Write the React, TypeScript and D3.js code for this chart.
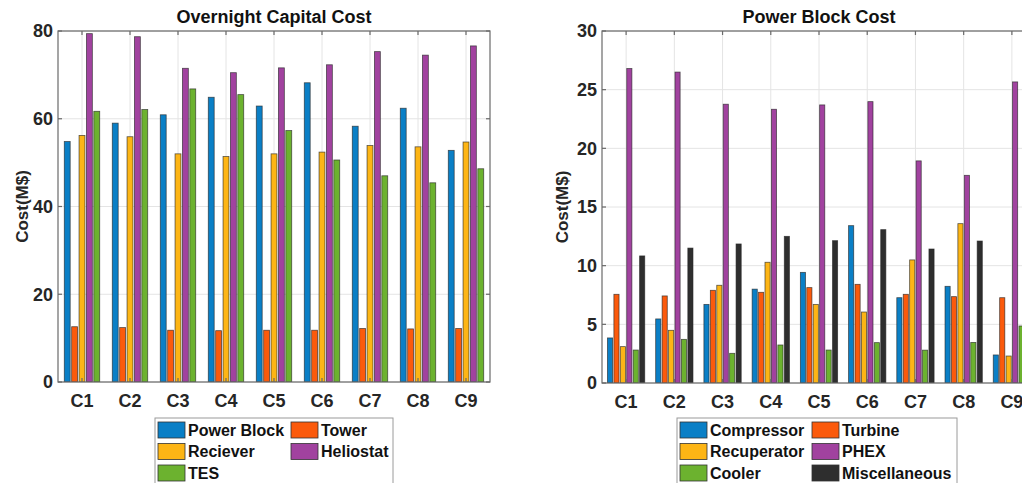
import React, { useEffect, useRef } from "react";
import * as d3 from "d3";

// Cases C1..C9
const categories = ["C1", "C2", "C3", "C4", "C5", "C6", "C7", "C8", "C9"];

// Overnight capital cost breakdown (M$)
const capitalSeries = ["Power Block", "Tower", "Reciever", "Heliostat", "TES"];
const powerBlock = [54.8, 59.0, 60.9, 64.9, 62.9, 68.2, 58.3, 62.4, 52.8];
const tower = [12.6, 12.4, 11.8, 11.7, 11.8, 11.8, 12.2, 12.1, 12.2];
const reciever = [56.2, 55.9, 52.0, 51.4, 52.0, 52.4, 53.9, 53.6, 54.7];
const heliostat = [79.4, 78.7, 71.5, 70.5, 71.6, 72.3, 75.3, 74.5, 76.6];
const tes = [61.7, 62.1, 66.8, 65.5, 57.3, 50.6, 47.0, 45.4, 48.6];
const capitalTicks = [0, 20, 40, 60, 80];

// Power block cost breakdown (M$)
const blockSeries = ["Compressor", "Turbine", "Recuperator", "PHEX", "Cooler", "Miscellaneous"];
const compressor = [3.84, 5.46, 6.7, 8.0, 9.43, 13.41, 7.27, 8.24, 2.39];
const turbine = [7.56, 7.42, 7.9, 7.73, 8.13, 8.41, 7.56, 7.36, 7.27];
const recuperator = [3.1, 4.49, 8.33, 10.29, 6.7, 6.05, 10.49, 13.58, 2.3];
const phex = [26.8, 26.5, 23.76, 23.33, 23.7, 23.98, 18.93, 17.7, 25.66];
const cooler = [2.81, 3.72, 2.53, 3.24, 2.81, 3.44, 2.8, 3.46, 4.86];
const miscellaneous = [10.83, 11.5, 11.85, 12.5, 12.13, 13.07, 11.42, 12.1, 12.0];
const blockTicks = [0, 5, 10, 15, 20, 25, 30];

const colors6 = ["#0a7fc6", "#fb5a0c", "#fdb515", "#a1429f", "#6cb22f", "#2e2e2e"];

const FONT = "'Liberation Sans', Arial, sans-serif";

type PanelSpec = {
  title: string;
  series: string[];
  values: number[][];
  colors: string[];
  ticks: number[];
  max: number;
  x0: number;
  x1: number;
  y0: number;
  y1: number;
  yLabelX: number;
  legend: { x: number; y: number; w: number; col2: number };
};

function drawPanel(g: d3.Selection<SVGGElement, unknown, null, undefined>, p: PanelSpec) {
  const x = d3.scaleBand<string>().domain(categories).range([p.x0, p.x1]).padding(0);
  const y = d3.scaleLinear().domain([0, p.max]).range([p.y1, p.y0]);
  const n = p.series.length;
  const gw = Math.min(0.8, n / (n + 1.5)) * x.bandwidth();
  const inner = d3
    .scaleBand<number>()
    .domain(d3.range(n))
    .range([-gw / 2, gw / 2])
    .paddingInner(0.2)
    .paddingOuter(0.1);

  const clipId = `clip-${p.x0}`;
  g.append("clipPath")
    .attr("id", clipId)
    .append("rect")
    .attr("x", p.x0)
    .attr("y", p.y0)
    .attr("width", p.x1 - p.x0)
    .attr("height", p.y1 - p.y0);

  // grid
  g.append("rect")
    .attr("x", p.x0)
    .attr("y", p.y0)
    .attr("width", p.x1 - p.x0)
    .attr("height", p.y1 - p.y0)
    .attr("fill", "#fff");
  const grid = g.append("g").attr("stroke", "#e4e4e4").attr("stroke-width", 1);
  p.ticks.forEach((t) => {
    grid.append("line").attr("x1", p.x0).attr("x2", p.x1).attr("y1", y(t)).attr("y2", y(t));
  });
  categories.forEach((c) => {
    const cx = x(c)! + x.bandwidth() / 2;
    grid.append("line").attr("x1", cx).attr("x2", cx).attr("y1", p.y0).attr("y2", p.y1);
  });

  // bars
  const bars = g.append("g").attr("clip-path", `url(#${clipId})`);
  p.values.forEach((vals, si) => {
    bars
      .selectAll(null)
      .data(vals)
      .enter()
      .append("rect")
      .attr("x", (_d, i) => x(categories[i])! + x.bandwidth() / 2 + inner(si)!)
      .attr("y", (d) => y(d))
      .attr("width", inner.bandwidth())
      .attr("height", (d) => y(0) - y(d))
      .attr("fill", p.colors[si])
      .attr("stroke", "#262626")
      .attr("stroke-opacity", 0.75)
      .attr("stroke-width", 0.8);
  });

  // axes box
  const ax = g.append("g").attr("stroke", "#6a6a6a").attr("stroke-width", 1.2).attr("fill", "none");
  ax.append("rect")
    .attr("x", p.x0)
    .attr("y", p.y0)
    .attr("width", p.x1 - p.x0)
    .attr("height", p.y1 - p.y0);
  p.ticks.forEach((t) => {
    ax.append("line").attr("x1", p.x0).attr("x2", p.x0 + 4).attr("y1", y(t)).attr("y2", y(t));
    ax.append("line").attr("x1", p.x1).attr("x2", p.x1 - 4).attr("y1", y(t)).attr("y2", y(t));
  });
  categories.forEach((c) => {
    const cx = x(c)! + x.bandwidth() / 2;
    ax.append("line").attr("x1", cx).attr("x2", cx).attr("y1", p.y1).attr("y2", p.y1 - 4);
    ax.append("line").attr("x1", cx).attr("x2", cx).attr("y1", p.y0).attr("y2", p.y0 + 4);
  });

  // tick labels
  const txt = g.append("g").attr("font-family", FONT).attr("font-weight", "bold").attr("fill", "#262626");
  p.ticks.forEach((t) => {
    txt.append("text")
      .attr("x", p.x0 - 5)
      .attr("y", y(t))
      .attr("dy", "0.36em")
      .attr("text-anchor", "end")
      .attr("font-size", 18)
      .text(t);
  });
  categories.forEach((c) => {
    txt.append("text")
      .attr("x", x(c)! + x.bandwidth() / 2)
      .attr("y", p.y1 + 25)
      .attr("text-anchor", "middle")
      .attr("font-size", 18)
      .text(c);
  });
  txt.append("text")
    .attr("x", (p.x0 + p.x1) / 2)
    .attr("y", p.y0 - 8)
    .attr("text-anchor", "middle")
    .attr("font-size", 18)
    .attr("fill", "#111")
    .text(p.title);
  txt.append("text")
    .attr("transform", `translate(${p.yLabelX},${(p.y0 + p.y1) / 2}) rotate(-90)`)
    .attr("text-anchor", "middle")
    .attr("font-size", 17)
    .text("Cost(M$)");

  // legend
  const L = p.legend;
  const lg = g.append("g").attr("font-family", FONT).attr("font-weight", "bold");
  lg.append("rect")
    .attr("x", L.x)
    .attr("y", L.y)
    .attr("width", L.w)
    .attr("height", 80)
    .attr("fill", "#fff")
    .attr("stroke", "#9a9a9a")
    .attr("stroke-width", 1);
  p.series.forEach((s, i) => {
    const col = i % 2;
    const row = Math.floor(i / 2);
    const sx = col === 0 ? L.x + 3 : L.col2;
    const cy = L.y + 12 + row * 21.5;
    lg.append("rect")
      .attr("x", sx)
      .attr("y", cy - 8)
      .attr("width", 27)
      .attr("height", 16)
      .attr("fill", p.colors[i])
      .attr("stroke", "#333")
      .attr("stroke-width", 0.8);
    lg.append("text")
      .attr("x", sx + 30)
      .attr("y", cy)
      .attr("dy", "0.36em")
      .attr("font-size", 16)
      .attr("fill", "#111")
      .text(s);
  });
}

export default function App() {
  const ref = useRef<SVGSVGElement>(null);

  useEffect(() => {
    const svg = d3.select(ref.current!);
    svg.selectAll("*").remove();

    drawPanel(svg.append("g"), {
      title: "Overnight Capital Cost",
      series: capitalSeries,
      values: [powerBlock, tower, reciever, heliostat, tes],
      colors: colors6.slice(0, 5),
      ticks: capitalTicks,
      max: 80,
      x0: 58,
      x1: 490,
      y0: 31,
      y1: 382,
      yLabelX: 28,
      legend: { x: 155, y: 418, w: 238, col2: 291 },
    });

    drawPanel(svg.append("g"), {
      title: "Power Block Cost",
      series: blockSeries,
      values: [compressor, turbine, recuperator, phex, cooler, miscellaneous],
      colors: colors6,
      ticks: blockTicks,
      max: 30,
      x0: 602,
      x1: 1036,
      y0: 31,
      y1: 383,
      yLabelX: 568,
      legend: { x: 677, y: 418, w: 280, col2: 812 },
    });
  }, []);

  return (
    <div style={{ position: "absolute", left: 0, top: 0, width: 1022, height: 483, overflow: "hidden" }}>
      <svg ref={ref} width={1022} height={483} style={{ display: "block", background: "#fff" }} />
    </div>
  );
}
